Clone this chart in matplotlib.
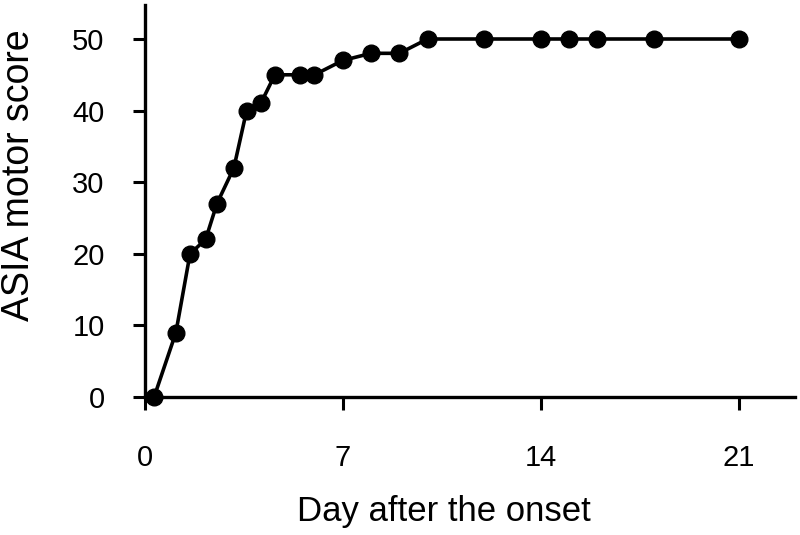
import matplotlib
matplotlib.use("Agg")
import matplotlib.pyplot as plt

# data
days = [0.33, 1.1, 1.6, 2.15, 2.55, 3.15, 3.6, 4.1, 4.6, 5.5, 6.0,
        7, 8, 9, 10, 12, 14, 15, 16, 18, 21]
score = [0, 9, 20, 22, 27, 32, 40, 41, 45, 45, 45,
         47, 48, 48, 50, 50, 50, 50, 50, 50, 50]
xticks = [0, 7, 14, 21]
yticks = [0, 10, 20, 30, 40, 50]

plt.rcParams["font.family"] = ["Liberation Sans", "DejaVu Sans"]

fig = plt.figure(figsize=(8, 5.35), dpi=100)
ax = fig.add_axes([0.181, 0.258, 0.813, 0.732])

ax.plot(days, score, color="black", lw=2.6, marker="o", ms=12,
        clip_on=False, zorder=3)

ax.set_xlim(0, 23)
ax.set_ylim(0, 54.7)
ax.set_xticks(xticks)
ax.set_yticks(yticks)

for s in ["top", "right"]:
    ax.spines[s].set_visible(False)
for s in ["left", "bottom"]:
    ax.spines[s].set_linewidth(2.4)

ax.tick_params(width=2.2, length=9, labelsize=21)
ax.tick_params(axis="x", pad=25)
ax.tick_params(axis="y", pad=20)

ax.set_xlabel("Day after the onset", fontsize=25, va="top")
ax.set_ylabel("ASIA motor score", fontsize=27)
ax.xaxis.set_label_coords(0.46, -0.25)
ax.yaxis.set_label_coords(-0.165, 0.567)

fig.savefig("out.png", dpi=100)
